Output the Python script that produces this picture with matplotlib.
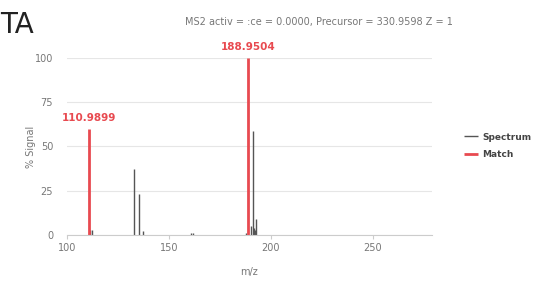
import matplotlib
matplotlib.use("Agg")
import matplotlib.pyplot as plt

# spectrum peaks (m/z, % signal)
spec_mz = [111.5, 112.2, 133.1, 135.2, 137.3, 160.7, 161.9, 188.0,
           190.4, 191.0, 191.6, 192.2, 192.8]
spec_int = [3, 3, 37, 23, 2, 1.2, 1.2, 1, 5, 58.5, 4, 3, 9]

# matched peaks
match_mz = [110.9899, 188.9504]
match_int = [60, 100]

title = "MS2 activ = :ce = 0.0000, Precursor = 330.9598 Z = 1"
x_ticks = [100, 150, 200, 250]
y_ticks = [0, 25, 50, 75, 100]

GRAY = "#555555"
RED = "#e84a50"
TXT = "#777777"

fig = plt.figure(figsize=(5.42, 2.82), dpi=100)
ax = fig.add_axes([0.1236, 0.1667, 0.6734, 0.6277])

ax.vlines(spec_mz, 0, spec_int, color=GRAY, linewidth=1.0, label="Spectrum")
ax.vlines(match_mz, 0, match_int, color=RED, linewidth=2.0, label="Match",
          clip_on=False)
for mz, h in zip(match_mz, match_int):
    ax.annotate(f"{mz:.4f}", (mz, h), xytext=(0, 4), textcoords="offset points",
                ha="center", va="bottom", color=RED, fontsize=7.5,
                fontweight="bold", annotation_clip=False)

ax.set_xlim(100, 279)
ax.set_ylim(0, 100)
ax.set_xticks(x_ticks)
ax.set_yticks(y_ticks)
ax.grid(axis="y", color="#e6e6e6", linewidth=0.8)
ax.set_axisbelow(True)
for s in ["top", "right", "left"]:
    ax.spines[s].set_visible(False)
ax.spines["bottom"].set_color("#cccccc")
ax.tick_params(axis="x", colors="#cccccc", labelcolor=TXT, labelsize=7,
               length=3, pad=3)
ax.tick_params(axis="y", length=0, labelcolor=TXT, labelsize=7, pad=10)

ax.set_xlabel("m/z", color=TXT, fontsize=7, labelpad=10)
ax.set_ylabel("% Signal", color=TXT, fontsize=7, labelpad=-1)

ax.set_title(title, color=TXT, fontsize=7, pad=24, x=0.69)
fig.text(0.0, 0.96, "TA", fontsize=20, va="top", ha="left", color="#222222")

leg = ax.legend(loc="center left", bbox_to_anchor=(1.065, 0.505), frameon=False,
                fontsize=6.5, handlelength=1.6, handletextpad=0.4,
                labelspacing=0.9)
for t in leg.get_texts():
    t.set_fontweight("bold")
    t.set_color("#444444")

fig.savefig("out.png", dpi=100)
